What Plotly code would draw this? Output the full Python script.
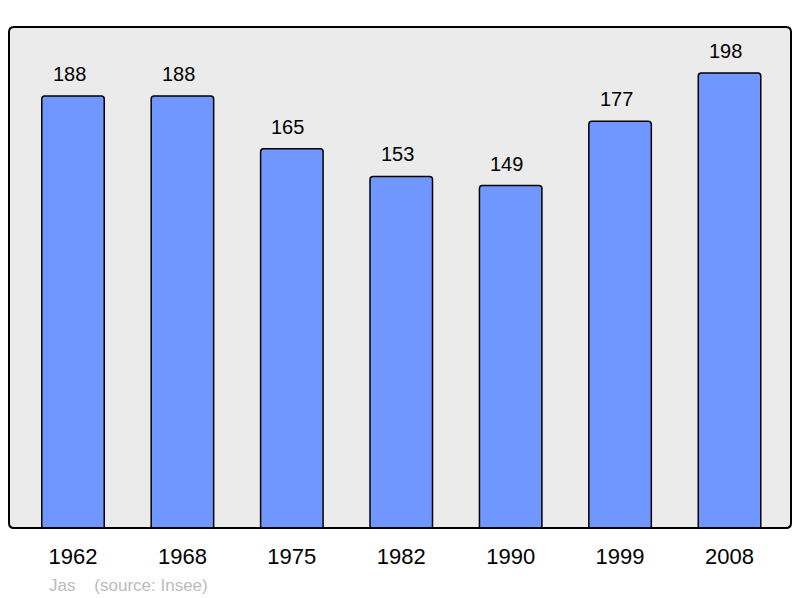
import plotly.graph_objects as go

years = ["1962", "1968", "1975", "1982", "1990", "1999", "2008"]
population = [188, 188, 165, 153, 149, 177, 198]
source_text = "Jas&nbsp;&nbsp;&nbsp;&nbsp;(source: Insee)"

FONT = "Liberation Sans, Arial, sans-serif"

fig = go.Figure()
fig.add_trace(go.Bar(
    x=years, y=population, width=0.571,
    marker=dict(color="#7096FF", line=dict(color="#000000", width=1.5), cornerradius=3),
    hoverinfo="skip",
))

for i, v in enumerate(population):
    fig.add_annotation(x=i, y=v, text=str(v), showarrow=False, yanchor="bottom",
                       yshift=9, xshift=-4, font=dict(family=FONT, size=20, color="#000000"))

fig.add_annotation(xref="paper", yref="paper", x=0.049, y=0, xanchor="left", yanchor="middle",
                   yshift=-57, text=source_text, showarrow=False,
                   font=dict(family=FONT, size=17, color="#BBBBBB"))

# rounded border of plot area
W, H = 782.0, 501.0
r = 5.0
rx, ry = r / W, r / H
path = (f"M {rx},0 L {1-rx},0 Q 1,0 1,{ry} L 1,{1-ry} Q 1,1 {1-rx},1 "
        f"L {rx},1 Q 0,1 0,{1-ry} L 0,{ry} Q 0,0 {rx},0 Z")
fig.add_shape(type="path", xref="paper", yref="paper", path=path,
              line=dict(color="#000000", width=2), layer="above")

fig.update_layout(
    width=792, height=590,
    margin=dict(l=1, r=9, t=19, b=70),
    paper_bgcolor="#FFFFFF", plot_bgcolor="#EBEBEB",
    showlegend=False,
    font=dict(family=FONT),
    xaxis=dict(type="category", range=[-0.585, 6.562], showgrid=False, zeroline=False,
               showline=False, ticks="", tickfont=dict(size=22, color="#000000"),
               ticklabelstandoff=13, fixedrange=True),
    yaxis=dict(range=[0, 218], showgrid=False, zeroline=False, showline=False,
               showticklabels=False, ticks="", fixedrange=True),
)

fig.write_html("out.html")
